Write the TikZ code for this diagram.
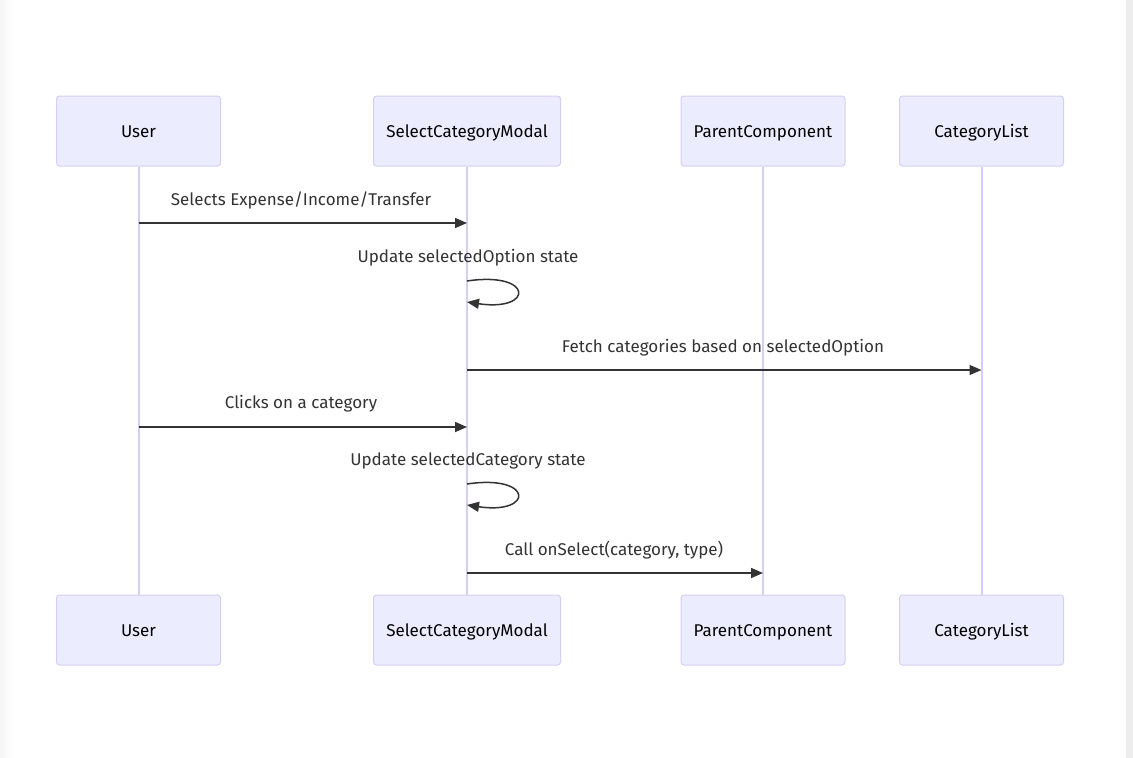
\documentclass[tikz,border=0pt]{standalone}
\usepackage{fontspec}
\setmainfont{Fira Sans}
\usetikzlibrary{arrows.meta}
\definecolor{actorfill}{HTML}{ECECFF}
\definecolor{actorline}{HTML}{D8CEF3}
\definecolor{msgcol}{HTML}{333333}
\begin{document}
\begin{tikzpicture}[x=1pt,y=-1pt,
  txt/.style={font=\fontsize{17}{20}\selectfont,text height=14pt,text depth=2pt},
  actor/.style={txt,draw=actorline,fill=actorfill,line width=1pt,rounded corners=3pt,
    minimum width=164pt,minimum height=70pt,inner sep=0pt,text=black},
  wideactor/.style={actor,minimum width=187pt},
  lifeline/.style={draw=actorline,line width=2pt},
  msg/.style={draw=msgcol,line width=1.5pt,-{Triangle[length=12pt,width=10pt]}},
  msglabel/.style={txt,text=msgcol,inner sep=0pt}]
\useasboundingbox (0,0) rectangle (1133,758);
\fill[white] (0,0) rectangle (1133,758);
\shade[left color=black!4,right color=white] (0,0) rectangle (12,758);
\fill[black!7] (1126,0) rectangle (1133,758);

% participants, top row
\node[actor]     (uT) at (138.5,131) {User};
\node[wideactor] (sT) at (467,131)   {SelectCategoryModal};
\node[actor]     (pT) at (763,131)   {ParentComponent};
\node[actor]     (cT) at (981.5,131) {CategoryList};
% participants, bottom row
\node[actor]     (uB) at (138.5,630) {User};
\node[wideactor] (sB) at (467,630)   {SelectCategoryModal};
\node[actor]     (pB) at (763,630)   {ParentComponent};
\node[actor]     (cB) at (981.5,630) {CategoryList};

% lifelines
\draw[lifeline] (uT.south) -- (uB.north);
\draw[lifeline] (sT.south) -- (sB.north);
\draw[lifeline] (pT.south) -- (pB.north);
\draw[lifeline] (cT.south) -- (cB.north);

% message anchors on the lifelines
\coordinate (u1) at (138.5,223);
\coordinate (s1) at (467,223);
\coordinate (s2a) at (467,281);
\coordinate (s2b) at (467,302);
\coordinate (s3) at (467,370);
\coordinate (c3) at (981.5,370);
\coordinate (u4) at (138.5,427);
\coordinate (s4) at (467,427);
\coordinate (s5a) at (467,484);
\coordinate (s5b) at (467,505);
\coordinate (s6) at (467,573);
\coordinate (p6) at (763,573);

% messages
\draw[msg] (u1) -- (s1);
\node[msglabel] (l1) at (301,199) {Selects Expense/Income/Transfer};

\draw[msg] (s2a) .. controls (534,271) and (534,312) .. (s2b);
\node[msglabel] (l2) at (468,256) {Update selectedOption state};

\draw[msg] (s3) -- (c3);
\node[msglabel] (l3) at (723,346) {Fetch categories based on selectedOption};

\draw[msg] (u4) -- (s4);
\node[msglabel] (l4) at (301,402) {Clicks on a category};

\draw[msg] (s5a) .. controls (534,474) and (534,515) .. (s5b);
\node[msglabel] (l5) at (468,459) {Update selectedCategory state};

\draw[msg] (s6) -- (p6);
\node[msglabel] (l6) at (614,549) {Call onSelect(category, type)};
\end{tikzpicture}
\end{document}
